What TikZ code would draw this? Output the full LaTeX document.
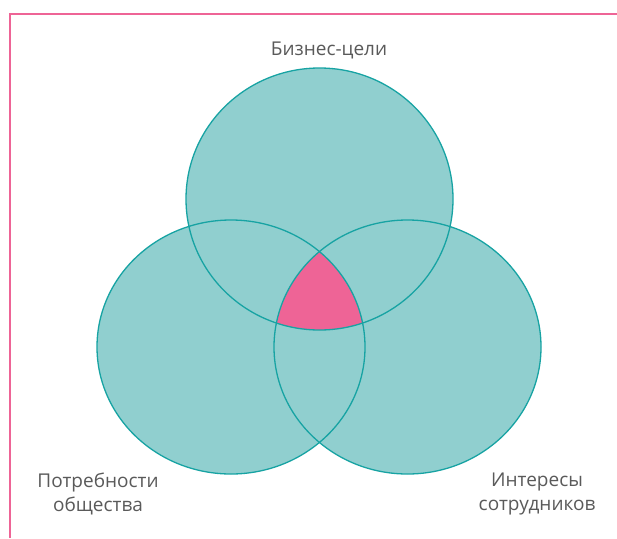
\documentclass[tikz,border=0pt]{standalone}
\usepackage{fontspec}
\setmainfont{Open Sans}
\definecolor{tealfill}{HTML}{90CFCF}
\definecolor{tealline}{HTML}{17A3A3}
\definecolor{pinkc}{HTML}{EE6496}
\definecolor{labelgray}{HTML}{5A5A5A}
\tikzset{
  circ/.style={draw=tealline, line width=1.3pt},
  lbl/.style={text=labelgray, font=\fontsize{19}{24}\selectfont, align=center, inner sep=0pt},
}
\begin{document}
\begin{tikzpicture}[x=1pt,y=-1pt]
\useasboundingbox (0,0) rectangle (617,538);
\fill[white] (0,0) rectangle (617,538);
\draw[pinkc, line width=2.6pt] (10,538) -- (10,14) -- (617,14);
% fills
\fill[tealfill] (319.5,199) ellipse [x radius=133.5, y radius=131];
\fill[tealfill] (231,347) ellipse [x radius=134, y radius=127];
\fill[tealfill] (407.5,347) ellipse [x radius=133.5, y radius=127];
\begin{scope}
  \clip (319.5,199) ellipse [x radius=133.5, y radius=131];
  \clip (231,347) ellipse [x radius=134, y radius=127];
  \fill[pinkc] (407.5,347) ellipse [x radius=133.5, y radius=127];
\end{scope}
% outlines
\draw[circ] (319.5,199) ellipse [x radius=133.5, y radius=131];
\draw[circ] (231,347) ellipse [x radius=134, y radius=127];
\draw[circ] (407.5,347) ellipse [x radius=133.5, y radius=127];
% labels
\node[lbl] (biz) at (329,50) {Бизнес-цели};
\node[lbl] (soc) at (98,494) {Потребности\\общества};
\node[lbl] (emp) at (537,494) {Интересы\\сотрудников};
\end{tikzpicture}
\end{document}
